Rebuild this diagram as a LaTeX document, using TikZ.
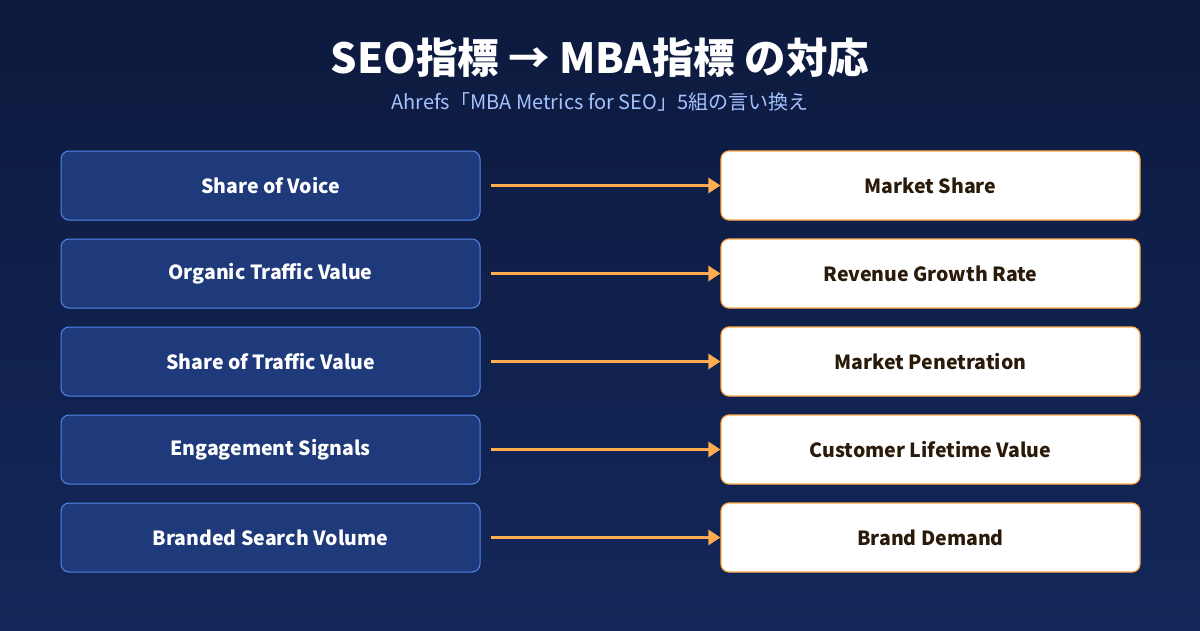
\documentclass[tikz,border=0pt]{standalone}
\usepackage{fontspec}
\setmainfont{Noto Sans CJK JP}
\usetikzlibrary{arrows.meta}
\definecolor{bgtop}{HTML}{0D1A3E}
\definecolor{bgbot}{HTML}{13275A}
\definecolor{lfill}{HTML}{1F3A7A}
\definecolor{ldraw}{HTML}{4F86E8}
\definecolor{rdraw}{HTML}{FFAA48}
\definecolor{arrowc}{HTML}{FFAD4F}
\definecolor{rtext}{HTML}{2A1A0A}
\definecolor{subc}{HTML}{A3C2FF}
\tikzset{
  lbox/.style={draw=ldraw, line width=1pt, fill=lfill, rounded corners=8pt, minimum width=419pt, minimum height=69pt, inner sep=0pt, text=white, font=\fontsize{19.5}{24}\selectfont\bfseries},
  rbox/.style={draw=rdraw, line width=1.2pt, fill=white, rounded corners=8pt, minimum width=419pt, minimum height=69pt, inner sep=0pt, text=rtext, font=\fontsize{19.5}{24}\selectfont\bfseries},
  conn/.style={draw=arrowc, line width=3pt, -{Triangle[length=12pt,width=15pt]}}
}
\begin{document}
\begin{tikzpicture}[x=1pt,y=-1pt]
\shade[top color=bgtop, bottom color=bgbot] (0,0) rectangle (1200,630);
\useasboundingbox (0,0) rectangle (1200,630);
\node[text=white, font=\fontsize{41.5}{48}\selectfont\bfseries] (title) at (600,58) {SEO指標 → MBA指標 の対応};
\node[text=subc, font=\fontsize{20}{24}\selectfont] (sub) at (600,102) {Ahrefs「MBA Metrics for SEO」5組の言い換え};
\foreach \i/\l/\r in {0/Share of Voice/Market Share, 1/Organic Traffic Value/Revenue Growth Rate, 2/Share of Traffic Value/Market Penetration, 3/Engagement Signals/Customer Lifetime Value, 4/Branded Search Volume/Brand Demand}{
  \node[lbox] (l\i) at (270.5,185.5+88*\i) {\l};
  \node[rbox] (r\i) at (930.5,185.5+88*\i) {\r};
  \coordinate (s\i) at ([xshift=10pt]l\i.east);
  \draw[conn] (s\i) -- (r\i.west);
}
\end{tikzpicture}
\end{document}
